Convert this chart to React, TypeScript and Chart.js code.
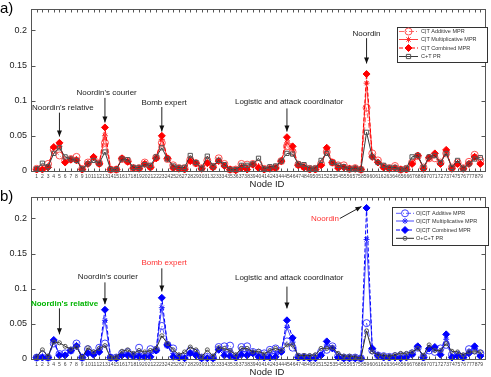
import React, { useEffect, useRef } from "react";
import { Chart, registerables } from "chart.js";
import { drawPoint } from "chart.js/helpers";

Chart.register(...registerables);

// ---------------- data ----------------
const nodeIds = [
  1, 2, 3, 4, 5, 6, 7, 8, 9, 10, 11, 12, 13, 14, 15, 16, 17, 18, 19, 20,
  21, 22, 23, 24, 25, 26, 27, 28, 29, 30, 31, 32, 33, 34, 35, 36, 37, 38, 39, 40,
  41, 42, 43, 44, 45, 46, 47, 48, 49, 50, 51, 52, 53, 54, 55, 56, 57, 58, 59, 60,
  61, 62, 63, 64, 65, 66, 67, 68, 69, 70, 71, 72, 73, 74, 75, 76, 77, 78, 79,
];
const yTicks = [0, 0.05, 0.1, 0.15, 0.2];

// panel a) C|T
const aAdditive = [
  0.003, 0.004, 0.010, 0.030, 0.022, 0.015, 0.017, 0.020, 0.003, 0.012,
  0.017, 0.011, 0.040, 0.002, 0.002, 0.017, 0.014, 0.004, 0.004, 0.012,
  0.006, 0.019, 0.040, 0.017, 0.008, 0.004, 0.004, 0.016, 0.011, 0.004,
  0.015, 0.006, 0.018, 0.010, 0.002, 0.002, 0.010, 0.009, 0.010, 0.010,
  0.003, 0.004, 0.005, 0.014, 0.035, 0.027, 0.009, 0.006, 0.003, 0.003,
  0.010, 0.027, 0.012, 0.008, 0.008, 0.003, 0.004, 0.002, 0.090, 0.025,
  0.015, 0.006, 0.004, 0.007, 0.002, 0.003, 0.012, 0.021, 0.005, 0.018,
  0.018, 0.012, 0.025, 0.005, 0.012, 0.004, 0.013, 0.023, 0.015,
];
const aMultiplicative = [
  0.002, 0.003, 0.007, 0.032, 0.035, 0.013, 0.016, 0.017, 0.002, 0.011,
  0.019, 0.010, 0.050, 0.002, 0.002, 0.018, 0.013, 0.004, 0.003, 0.011,
  0.005, 0.018, 0.045, 0.018, 0.006, 0.003, 0.003, 0.015, 0.011, 0.003,
  0.013, 0.005, 0.016, 0.008, 0.002, 0.001, 0.007, 0.005, 0.009, 0.007,
  0.002, 0.003, 0.004, 0.014, 0.040, 0.030, 0.008, 0.005, 0.002, 0.002,
  0.009, 0.030, 0.012, 0.006, 0.006, 0.003, 0.003, 0.002, 0.125, 0.022,
  0.013, 0.005, 0.003, 0.005, 0.002, 0.002, 0.011, 0.022, 0.004, 0.018,
  0.022, 0.011, 0.028, 0.004, 0.011, 0.003, 0.011, 0.021, 0.012,
];
const aCombined = [
  0.002, 0.002, 0.005, 0.034, 0.040, 0.012, 0.016, 0.015, 0.002, 0.010,
  0.020, 0.010, 0.062, 0.002, 0.002, 0.018, 0.013, 0.004, 0.003, 0.010,
  0.005, 0.018, 0.050, 0.018, 0.004, 0.003, 0.002, 0.014, 0.011, 0.003,
  0.011, 0.005, 0.014, 0.007, 0.002, 0.001, 0.004, 0.002, 0.009, 0.004,
  0.002, 0.003, 0.004, 0.014, 0.048, 0.035, 0.008, 0.005, 0.002, 0.002,
  0.008, 0.033, 0.012, 0.004, 0.005, 0.003, 0.003, 0.002, 0.138, 0.020,
  0.012, 0.005, 0.003, 0.004, 0.002, 0.002, 0.010, 0.022, 0.003, 0.019,
  0.025, 0.010, 0.030, 0.003, 0.010, 0.003, 0.010, 0.020, 0.010,
];
const aPR = [
  0.003, 0.011, 0.006, 0.025, 0.033, 0.020, 0.017, 0.015, 0.003, 0.010,
  0.015, 0.011, 0.027, 0.002, 0.002, 0.017, 0.016, 0.005, 0.005, 0.009,
  0.008, 0.020, 0.033, 0.017, 0.007, 0.005, 0.005, 0.022, 0.012, 0.004,
  0.021, 0.007, 0.015, 0.009, 0.002, 0.002, 0.008, 0.008, 0.010, 0.018,
  0.003, 0.006, 0.007, 0.014, 0.025, 0.024, 0.010, 0.009, 0.004, 0.004,
  0.015, 0.025, 0.012, 0.008, 0.006, 0.003, 0.004, 0.002, 0.055, 0.020,
  0.012, 0.008, 0.005, 0.005, 0.002, 0.004, 0.020, 0.022, 0.005, 0.020,
  0.022, 0.012, 0.025, 0.005, 0.015, 0.004, 0.010, 0.017, 0.019,
];

// panel b) O|C|T
const bAdditive = [
  0.002, 0.006, 0.002, 0.022, 0.007, 0.008, 0.012, 0.022, 0.002, 0.014,
  0.008, 0.016, 0.022, 0.002, 0.002, 0.008, 0.010, 0.005, 0.016, 0.005,
  0.014, 0.013, 0.047, 0.020, 0.015, 0.003, 0.003, 0.012, 0.009, 0.002,
  0.003, 0.002, 0.017, 0.018, 0.019, 0.003, 0.017, 0.018, 0.010, 0.009,
  0.008, 0.013, 0.015, 0.012, 0.025, 0.016, 0.003, 0.003, 0.002, 0.003,
  0.010, 0.013, 0.018, 0.004, 0.002, 0.002, 0.002, 0.001, 0.051, 0.012,
  0.005, 0.004, 0.003, 0.004, 0.005, 0.005, 0.008, 0.016, 0.003, 0.012,
  0.010, 0.015, 0.020, 0.006, 0.006, 0.003, 0.014, 0.012, 0.008,
];
const bMultiplicative = [
  0.002, 0.004, 0.002, 0.025, 0.006, 0.006, 0.012, 0.020, 0.002, 0.011,
  0.007, 0.013, 0.055, 0.002, 0.001, 0.006, 0.007, 0.004, 0.008, 0.004,
  0.008, 0.012, 0.073, 0.020, 0.008, 0.002, 0.002, 0.010, 0.007, 0.001,
  0.002, 0.001, 0.015, 0.010, 0.010, 0.002, 0.011, 0.010, 0.009, 0.006,
  0.004, 0.007, 0.008, 0.011, 0.045, 0.024, 0.002, 0.002, 0.001, 0.002,
  0.007, 0.020, 0.016, 0.003, 0.001, 0.001, 0.001, 0.001, 0.170, 0.014,
  0.005, 0.003, 0.002, 0.003, 0.003, 0.003, 0.007, 0.017, 0.002, 0.014,
  0.014, 0.010, 0.028, 0.004, 0.005, 0.002, 0.011, 0.015, 0.006,
];
const bCombined = [
  0.002, 0.002, 0.002, 0.027, 0.005, 0.005, 0.012, 0.018, 0.002, 0.008,
  0.006, 0.010, 0.070, 0.002, 0.001, 0.005, 0.005, 0.004, 0.003, 0.003,
  0.003, 0.012, 0.087, 0.020, 0.003, 0.002, 0.001, 0.008, 0.005, 0.001,
  0.001, 0.001, 0.013, 0.005, 0.004, 0.002, 0.006, 0.005, 0.008, 0.003,
  0.002, 0.002, 0.003, 0.010, 0.055, 0.030, 0.002, 0.002, 0.001, 0.001,
  0.005, 0.025, 0.015, 0.002, 0.001, 0.001, 0.001, 0.001, 0.215, 0.015,
  0.005, 0.002, 0.002, 0.002, 0.001, 0.002, 0.006, 0.018, 0.002, 0.015,
  0.017, 0.006, 0.035, 0.002, 0.004, 0.002, 0.008, 0.018, 0.004,
];
const bPR = [
  0.003, 0.013, 0.004, 0.024, 0.023, 0.018, 0.014, 0.017, 0.002, 0.016,
  0.010, 0.015, 0.019, 0.002, 0.003, 0.011, 0.013, 0.008, 0.012, 0.010,
  0.012, 0.015, 0.033, 0.022, 0.013, 0.006, 0.010, 0.017, 0.013, 0.003,
  0.013, 0.004, 0.016, 0.015, 0.012, 0.006, 0.015, 0.015, 0.010, 0.011,
  0.007, 0.012, 0.015, 0.012, 0.020, 0.020, 0.005, 0.005, 0.005, 0.006,
  0.015, 0.015, 0.016, 0.008, 0.004, 0.004, 0.003, 0.001, 0.040, 0.010,
  0.006, 0.005, 0.004, 0.006, 0.008, 0.008, 0.010, 0.015, 0.005, 0.020,
  0.012, 0.012, 0.022, 0.011, 0.010, 0.006, 0.010, 0.010, 0.010,
];

const legendA = ["C|T Additive MPR", "C|T Multiplicative MPR", "C|T Combined MPR", "C+T PR"];
const legendB = ["O|C|T Additive MPR", "O|C|T Multiplicative MPR", "O|C|T Combined MPR", "O+C+T PR"];

type Ann = {
  text: string;
  tx: number;
  ty: number;
  from: [number, number];
  to: [number, number];
  color?: string;
  bold?: boolean;
};

const annotationsA: Ann[] = [
  { text: "Noordin's relative", tx: 5.6, ty: 0.09, from: [5, 0.083], to: [5, 0.049] },
  { text: "Noordin's courier", tx: 13.3, ty: 0.111, from: [13, 0.104], to: [13, 0.069] },
  { text: "Bomb expert", tx: 23.4, ty: 0.097, from: [23, 0.091], to: [23, 0.056] },
  { text: "Logistic and attack coordinator", tx: 45.4, ty: 0.099, from: [45, 0.089], to: [45, 0.056] },
  { text: "Noordin", tx: 59, ty: 0.195, from: [59, 0.189], to: [59, 0.153] },
];
const annotationsB: Ann[] = [
  { text: "Noordin's relative", tx: 5.9, ty: 0.079, from: [5, 0.072], to: [5, 0.035], color: "#00b400", bold: true },
  { text: "Noordin's courier", tx: 13.5, ty: 0.117, from: [13, 0.109], to: [13, 0.078] },
  { text: "Bomb expert", tx: 23.4, ty: 0.137, from: [23, 0.129], to: [23, 0.096], color: "#ff3333" },
  { text: "Logistic and attack coordinator", tx: 45.4, ty: 0.115, from: [45, 0.103], to: [45, 0.072] },
  { text: "Noordin", tx: 51.7, ty: 0.199, from: [54.3, 0.2], to: [58.1, 0.217], color: "#ff3333" },
];

// ---------------- styling ----------------
type Style = {
  color: string;
  dash: number[];
  pointStyle: any;
  radius: number;
  fill: string;
  pointColor: string;
  order: number;
};

type Panel = {
  tag: string;
  series: number[][];
  names: string[];
  styles: Style[];
  ann: Ann[];
  legend: { x: number; y: number; w: number; h: number; rows: number[]; l0: number; l1: number; tx: number };
};

const FONT = "'Liberation Sans', Arial, sans-serif";

const panelA: Panel = {
  tag: "a)",
  series: [aAdditive, aMultiplicative, aCombined, aPR],
  names: legendA,
  styles: [
    { color: "#ff6a6a", dash: [5, 2, 1, 2], pointStyle: "circle", radius: 3.5, fill: "rgba(255,255,255,0)", pointColor: "#ff5050", order: 4 },
    { color: "#ff4040", dash: [], pointStyle: "star", radius: 3, fill: "#ff3030", pointColor: "#ff3030", order: 3 },
    { color: "#ff0000", dash: [4, 2], pointStyle: "rectRot", radius: 3.5, fill: "#ff0000", pointColor: "#ff0000", order: 2 },
    { color: "#3a3a3a", dash: [], pointStyle: "rect", radius: 3, fill: "rgba(255,255,255,0)", pointColor: "#555555", order: 1 },
  ],
  ann: annotationsA,
  legend: { x: 397, y: 27, w: 90, h: 35, rows: [31.5, 39.5, 48, 56.5], l0: 399, l1: 418, tx: 421 },
};

const panelB: Panel = {
  tag: "b)",
  series: [bAdditive, bMultiplicative, bCombined, bPR],
  names: legendB,
  styles: [
    { color: "#5a5aff", dash: [5, 2, 1, 2], pointStyle: "circle", radius: 3.5, fill: "rgba(255,255,255,0)", pointColor: "#4040ff", order: 4 },
    { color: "#4a4aff", dash: [], pointStyle: "star", radius: 3, fill: "#3030ff", pointColor: "#3030ff", order: 3 },
    { color: "#0000ff", dash: [4, 2], pointStyle: "rectRot", radius: 3.5, fill: "#0000ff", pointColor: "#0000ff", order: 2 },
    { color: "#2a2a2a", dash: [], pointStyle: "circle", radius: 2, fill: "rgba(255,255,255,0)", pointColor: "#555555", order: 1 },
  ],
  ann: annotationsB,
  legend: { x: 392, y: 19, w: 96, h: 38, rows: [25.3, 33, 42, 50.3], l0: 396, l1: 414, tx: 416 },
};

function decoPlugin(p: Panel) {
  return {
    id: "deco",
    afterDraw(chart: any) {
      const { ctx, chartArea: ca } = chart;
      const x = chart.scales.x;
      const y = chart.scales.y;
      ctx.save();
      // frame
      ctx.strokeStyle = "#555";
      ctx.lineWidth = 1;
      ctx.setLineDash([]);
      const L = Math.round(ca.left) + 0.5;
      const R = Math.round(ca.right) - 0.5;
      const T = Math.round(ca.top) + 0.5;
      const B = Math.round(ca.bottom) - 0.5;
      ctx.strokeRect(L, T, R - L, B - T);
      ctx.beginPath();
      for (const n of nodeIds) {
        const px = Math.round(x.getPixelForValue(n)) + 0.5;
        ctx.moveTo(px, T);
        ctx.lineTo(px, T + 3);
        ctx.moveTo(px, B);
        ctx.lineTo(px, B - 3);
      }
      for (const v of yTicks) {
        const py = Math.round(y.getPixelForValue(v)) + 0.5;
        ctx.moveTo(L, py);
        ctx.lineTo(L + 4, py);
        ctx.moveTo(R, py);
        ctx.lineTo(R - 4, py);
      }
      ctx.stroke();

      // annotations
      for (const a of p.ann) {
        const col = a.color || "#222";
        ctx.fillStyle = col;
        ctx.font = `${a.bold ? "bold " : ""}8px ${FONT}`;
        ctx.textAlign = "center";
        ctx.textBaseline = "middle";
        ctx.fillText(a.text, x.getPixelForValue(a.tx), y.getPixelForValue(a.ty));
        const x0 = x.getPixelForValue(a.from[0]);
        const y0 = y.getPixelForValue(a.from[1]);
        const x1 = x.getPixelForValue(a.to[0]);
        const y1 = y.getPixelForValue(a.to[1]);
        ctx.strokeStyle = "#222";
        ctx.beginPath();
        ctx.moveTo(x0, y0);
        ctx.lineTo(x1, y1);
        ctx.stroke();
        const ang = Math.atan2(y1 - y0, x1 - x0);
        const hl = 6;
        const hw = 2.5;
        ctx.fillStyle = "#111";
        ctx.beginPath();
        ctx.moveTo(x1, y1);
        ctx.lineTo(x1 - hl * Math.cos(ang) + hw * Math.sin(ang), y1 - hl * Math.sin(ang) - hw * Math.cos(ang));
        ctx.lineTo(x1 - hl * Math.cos(ang) - hw * Math.sin(ang), y1 - hl * Math.sin(ang) + hw * Math.cos(ang));
        ctx.closePath();
        ctx.fill();
      }

      // legend
      const lg = p.legend;
      ctx.fillStyle = "#fff";
      ctx.fillRect(lg.x, lg.y, lg.w, lg.h);
      ctx.strokeStyle = "#333";
      ctx.lineWidth = 1;
      ctx.strokeRect(lg.x + 0.5, lg.y + 0.5, lg.w, lg.h);
      p.names.forEach((name, i) => {
        const st = p.styles[i];
        const ry = lg.rows[i];
        ctx.strokeStyle = st.color;
        ctx.setLineDash(st.dash);
        ctx.beginPath();
        ctx.moveTo(lg.l0, ry);
        ctx.lineTo(lg.l1, ry);
        ctx.stroke();
        ctx.setLineDash([]);
        ctx.fillStyle = st.fill;
        ctx.strokeStyle = st.pointColor;
        drawPoint(ctx, { pointStyle: st.pointStyle, radius: st.radius, rotation: 0, borderWidth: 1 } as any, (lg.l0 + lg.l1) / 2, ry);
        ctx.fillStyle = "#333";
        ctx.font = `5.5px ${FONT}`;
        ctx.textAlign = "left";
        ctx.textBaseline = "middle";
        ctx.fillText(name, lg.tx, ry);
      });

      // panel tag and axis title
      ctx.fillStyle = "#000";
      ctx.font = `15px ${FONT}`;
      ctx.textAlign = "left";
      ctx.textBaseline = "top";
      ctx.fillText(p.tag, 0, 1);
      ctx.fillStyle = "#222";
      ctx.font = `9.5px ${FONT}`;
      ctx.textAlign = "center";
      ctx.textBaseline = "middle";
      ctx.fillText("Node ID", 267, ca.bottom + 12);
      ctx.restore();
    },
  };
}

function buildChart(canvas: HTMLCanvasElement, p: Panel) {
  const datasets = p.series.map((vals, i) => {
    const st = p.styles[i];
    return {
      label: p.names[i],
      data: nodeIds.map((n, k) => ({ x: n, y: vals[k] })),
      borderColor: st.color,
      borderWidth: 1,
      borderDash: st.dash,
      pointStyle: st.pointStyle,
      pointRadius: st.radius,
      pointBorderColor: st.pointColor,
      pointBackgroundColor: st.fill,
      pointBorderWidth: 1,
      tension: 0,
      fill: false,
      order: st.order,
      clip: false as any,
    };
  });
  return new Chart(canvas, {
    type: "line",
    data: { datasets },
    options: {
      responsive: false,
      animation: false,
      devicePixelRatio: 1,
      events: [],
      layout: { padding: { left: 0, right: 2, top: 9, bottom: 0 } },
      plugins: { legend: { display: false }, tooltip: { enabled: false } },
      scales: {
        x: {
          type: "linear",
          min: 0,
          max: 80,
          grid: { display: false, drawTicks: false },
          border: { display: false },
          afterBuildTicks: (s: any) => {
            s.ticks = nodeIds.map((v) => ({ value: v }));
          },
          afterFit: (s: any) => {
            s.height = 16;
          },
          ticks: {
            autoSkip: false,
            maxRotation: 0,
            minRotation: 0,
            padding: 2,
            color: "#444",
            font: { size: 5, family: FONT },
            callback: (v: any) => String(v),
          },
        },
        y: {
          type: "linear",
          min: -0.0015,
          max: 0.23,
          grid: { display: false, drawTicks: false },
          border: { display: false },
          afterBuildTicks: (s: any) => {
            s.ticks = yTicks.map((v) => ({ value: v }));
          },
          afterFit: (s: any) => {
            s.width = 31;
          },
          ticks: {
            padding: 4,
            color: "#222",
            font: { size: 9, family: FONT },
            callback: (v: any) => String(v),
          },
        },
      },
    } as any,
    plugins: [decoPlugin(p)],
  });
}

export default function App() {
  const refA = useRef<HTMLCanvasElement>(null);
  const refB = useRef<HTMLCanvasElement>(null);
  useEffect(() => {
    const charts = [buildChart(refA.current!, panelA), buildChart(refB.current!, panelB)];
    return () => charts.forEach((c) => c.destroy());
  }, []);
  return (
    <div style={{ position: "fixed", left: 0, top: 0, width: 491, height: 377, background: "#fff" }}>
      <canvas ref={refA} width={491} height={188} style={{ position: "absolute", left: 0, top: 0, display: "block" }} />
      <canvas ref={refB} width={491} height={188} style={{ position: "absolute", left: 0, top: 188, display: "block" }} />
    </div>
  );
}
